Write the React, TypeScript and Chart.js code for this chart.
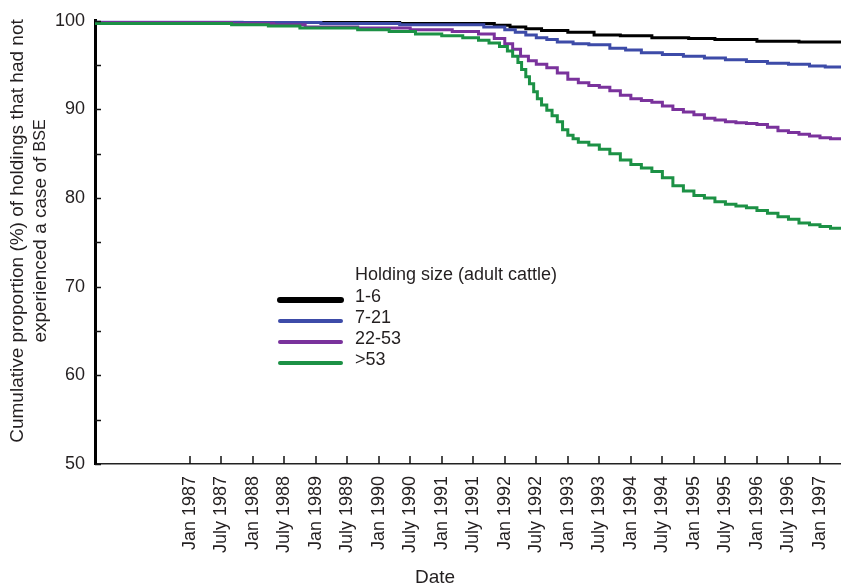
import { useEffect, useRef } from "react";
import { Chart, registerables } from "chart.js";

Chart.register(...registerables);

// x values are months since Jan 1987
const X_MIN = -18;
const X_MAX = 124;
const tickMonths = [0, 6, 12, 18, 24, 30, 36, 42, 48, 54, 60, 66, 72, 78, 84, 90, 96, 102, 108, 114, 120];
const tickLabels = [
  "Jan 1987", "July 1987", "Jan 1988", "July 1988", "Jan 1989", "July 1989",
  "Jan 1990", "July 1990", "Jan 1991", "July 1991", "Jan 1992", "July 1992",
  "Jan 1993", "July 1993", "Jan 1994", "July 1994", "Jan 1995", "July 1995",
  "Jan 1996", "July 1996", "Jan 1997",
];
const yTickValues = [50, 55, 60, 65, 70, 75, 80, 85, 90, 95, 100];

const seriesNames = ["1-6", "7-21", "22-53", ">53"];
const seriesColors = ["#000000", "#3d4ba8", "#7a329c", "#1c9145"];

const months1to6 = [-18, 40, 58, 61, 64, 67, 72, 77, 82, 88, 95, 100, 108, 116, 124];
const values1to6 = [100, 99.8, 99.7, 99.5, 99.3, 99.1, 98.9, 98.7, 98.4, 98.3, 98.1, 98.0, 97.9, 97.7, 97.6];

const months7to21 = [-18, 10, 25, 40, 56, 60, 62, 64, 66, 68, 70, 73, 76, 80, 83, 86, 90, 94, 98, 102, 106, 110, 114, 118, 121, 124];
const values7to21 = [100, 99.9, 99.8, 99.7, 99.55, 99.3, 99.0, 98.7, 98.4, 98.1, 97.9, 97.6, 97.4, 97.3, 96.9, 96.7, 96.4, 96.2, 96.0, 95.8, 95.6, 95.4, 95.2, 95.1, 94.9, 94.8];

const months22to53 = [-18, 8, 16, 22, 32, 42, 50, 55, 58, 60, 61.5, 63, 64.5, 66, 68, 70, 72, 74, 76, 78, 80, 82, 84, 86, 88, 90, 92, 94, 96, 98, 100, 102, 104, 106, 108, 110, 112, 114, 116, 118, 120, 122, 124];
const values22to53 = [100, 99.8, 99.7, 99.55, 99.3, 99.2, 99.0, 98.8, 98.5, 98.0, 97.4, 96.8, 96.0, 95.5, 95.1, 94.7, 94.1, 93.4, 93.0, 92.7, 92.5, 92.1, 91.6, 91.2, 91.0, 90.8, 90.4, 90.0, 89.7, 89.4, 89.0, 88.8, 88.6, 88.5, 88.4, 88.3, 88.0, 87.6, 87.4, 87.2, 87.0, 86.8, 86.7];

const monthsOver53 = [-18, 8, 15, 21, 32, 38, 43, 48, 52, 55, 57, 59, 60.5, 61.5, 62.5, 63.2, 64, 64.7, 65.5, 66.2, 67, 68, 69, 70, 71, 72, 73, 74, 76, 78, 80, 82, 84, 86, 88, 90, 92, 94, 96, 98, 100, 102, 104, 106, 108, 110, 112, 114, 116, 118, 120, 122, 124];
const valuesOver53 = [100, 99.7, 99.55, 99.4, 99.2, 99.0, 98.8, 98.5, 98.3, 98.1, 97.8, 97.5, 97.1, 96.6, 96.0, 95.3, 94.5, 93.7, 92.9, 92.0, 91.2, 90.5, 89.9, 89.3, 88.6, 87.7, 87.1, 86.7, 86.3, 86.0, 85.5, 85.0, 84.3, 83.8, 83.4, 83.0, 82.3, 81.4, 80.8, 80.3, 80.0, 79.6, 79.3, 79.1, 78.9, 78.6, 78.3, 77.9, 77.6, 77.2, 77.0, 76.8, 76.6];

const seriesMonths = [months1to6, months7to21, months22to53, monthsOver53];
const seriesValues = [values1to6, values7to21, values22to53, valuesOver53];

const legendTitle = "Holding size (adult cattle)";
const yTitleLine1 = "Cumulative proportion (%) of holdings that had not";
const yTitleLine2a = "experienced a case of ";
const yTitleLine2b = "BSE";
const xTitle = "Date";

const FONT = "'Liberation Sans', Arial, Helvetica, sans-serif";
const TEXT = "#231f20";

const decorPlugin = {
  id: "decor",
  afterDraw(chart: any) {
    const ctx = chart.ctx;
    const xs = chart.scales.x;
    const ys = chart.scales.y;
    const area = chart.chartArea;
    ctx.save();
    // inner ticks on y
    ctx.strokeStyle = "#111";
    ctx.lineWidth = 1.5;
    yTickValues.forEach((v) => {
      const y = Math.round(ys.getPixelForValue(v)) + 0.5;
      ctx.beginPath();
      ctx.moveTo(area.left, y);
      ctx.lineTo(area.left + 6, y);
      ctx.stroke();
    });
    // inner ticks on x
    tickMonths.forEach((m) => {
      const x = Math.round(xs.getPixelForValue(m));
      ctx.beginPath();
      ctx.moveTo(x, area.bottom);
      ctx.lineTo(x, area.bottom - 8);
      ctx.stroke();
    });
    // y title
    ctx.fillStyle = TEXT;
    ctx.textBaseline = "middle";
    const cy = 231;
    ctx.save();
    ctx.translate(18, cy);
    ctx.rotate(-Math.PI / 2);
    ctx.textAlign = "center";
    ctx.font = `19px ${FONT}`;
    ctx.fillText(yTitleLine1, 0, 0);
    ctx.restore();
    ctx.save();
    ctx.translate(41, cy);
    ctx.rotate(-Math.PI / 2);
    ctx.font = `19px ${FONT}`;
    const wa = ctx.measureText(yTitleLine2a).width;
    ctx.font = `16px ${FONT}`;
    const wb = ctx.measureText(yTitleLine2b).width;
    const start = -(wa + wb) / 2;
    ctx.textAlign = "left";
    ctx.font = `19px ${FONT}`;
    ctx.fillText(yTitleLine2a, start, 0);
    ctx.font = `16px ${FONT}`;
    ctx.fillText(yTitleLine2b, start + wa, 0);
    ctx.restore();
    // x title
    ctx.textAlign = "center";
    ctx.font = `19px ${FONT}`;
    ctx.fillText(xTitle, 435, 578);
    // legend
    ctx.textAlign = "left";
    ctx.font = `18px ${FONT}`;
    ctx.fillText(legendTitle, 355, 275);
    const rowY = [297, 318, 339, 360];
    seriesNames.forEach((name, i) => {
      ctx.strokeStyle = seriesColors[i];
      ctx.lineWidth = i === 0 ? 6 : 4;
      ctx.lineCap = "round";
      ctx.beginPath();
      ctx.moveTo(280, rowY[i] + 3);
      ctx.lineTo(341, rowY[i] + 3);
      ctx.stroke();
      ctx.fillText(name, 355, rowY[i]);
    });
    ctx.restore();
  },
};

export default function App() {
  const canvasRef = useRef<HTMLCanvasElement | null>(null);

  useEffect(() => {
    document.body.style.margin = "0";
    const canvas = canvasRef.current;
    if (!canvas) return;
    const datasets = seriesNames.map((name, i) => ({
      label: name,
      data: seriesMonths[i].map((m, j) => ({ x: m, y: seriesValues[i][j] })),
      borderColor: seriesColors[i],
      backgroundColor: seriesColors[i],
      borderWidth: 3,
      pointRadius: 0,
      stepped: "after" as const,
      fill: false,
      order: 3 - i,
    }));
    const chart = new Chart(canvas, {
      type: "line",
      data: { datasets },
      options: {
        responsive: false,
        animation: false,
        layout: { padding: { top: 19, right: 0, bottom: 0, left: 0 } },
        plugins: {
          legend: { display: false },
          tooltip: { enabled: false },
        },
        scales: {
          x: {
            type: "linear",
            min: X_MIN,
            max: X_MAX,
            afterBuildTicks: (scale: any) => {
              scale.ticks = tickMonths.map((v) => ({ value: v }));
            },
            afterFit: (scale: any) => {
              scale.height = 121;
              scale.paddingLeft = 0;
              scale.paddingRight = 0;
            },
            grid: { display: false, drawTicks: false },
            border: { display: true, color: "#222", width: 1.5 },
            ticks: {
              autoSkip: false,
              maxRotation: 90,
              minRotation: 90,
              padding: 12,
              color: TEXT,
              font: { family: FONT, size: 18 },
              callback: (v: any) => {
                const idx = tickMonths.indexOf(Number(v));
                return idx >= 0 ? tickLabels[idx] : "";
              },
            },
          },
          y: {
            type: "linear",
            min: 50,
            max: 100,
            afterBuildTicks: (scale: any) => {
              scale.ticks = yTickValues.map((v) => ({ value: v }));
            },
            afterFit: (scale: any) => {
              scale.width = 95;
            },
            grid: { display: false, drawTicks: false },
            border: { display: true, color: "#000", width: 3 },
            ticks: {
              padding: 10,
              color: TEXT,
              font: { family: FONT, size: 18 },
              callback: (v: any) => (Number(v) % 10 === 0 ? String(v) : ""),
            },
          },
        },
      },
      plugins: [decorPlugin],
    });
    return () => chart.destroy();
  }, []);

  return (
    <div style={{ width: 841, height: 585 }}>
      <canvas ref={canvasRef} width={841} height={585} />
    </div>
  );
}
